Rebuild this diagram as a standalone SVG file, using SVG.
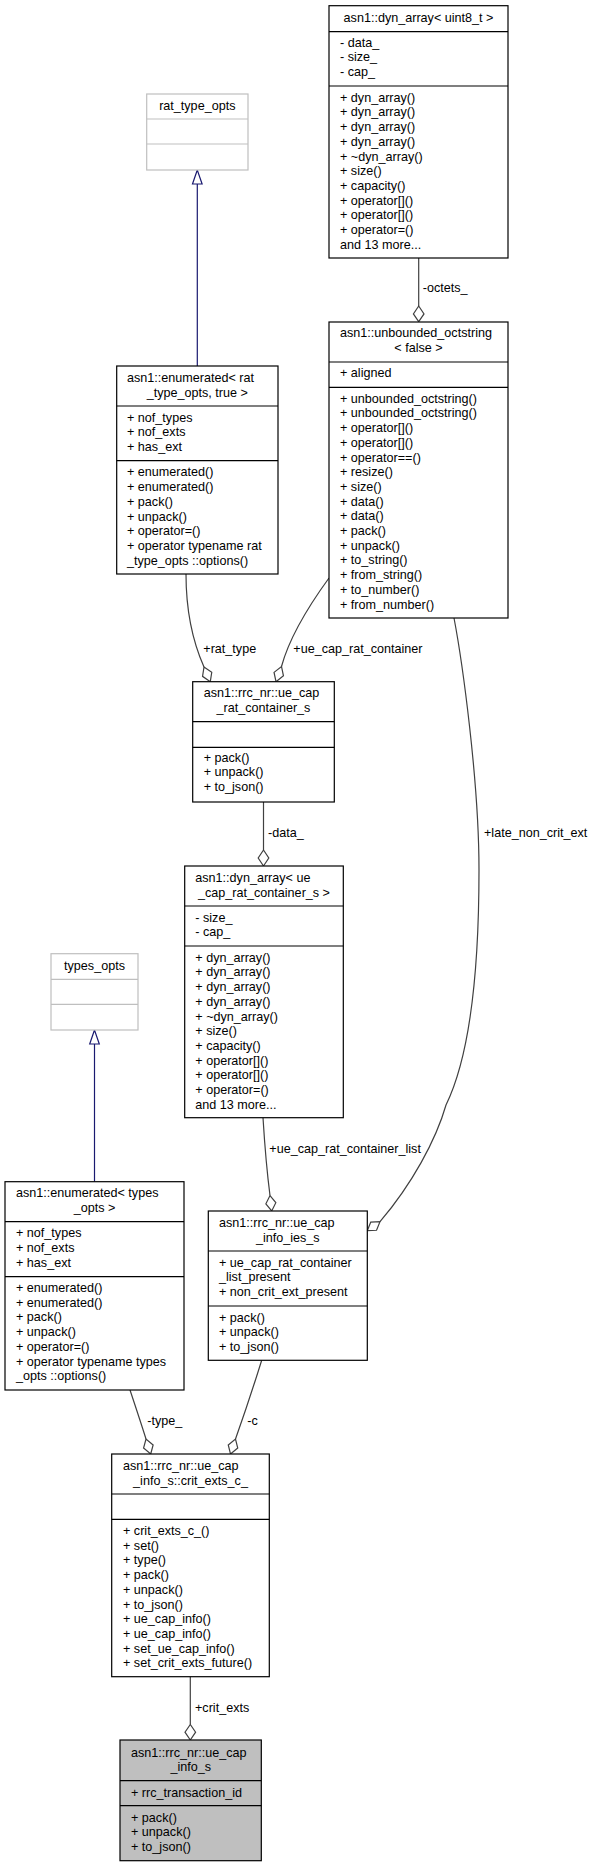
<svg xmlns="http://www.w3.org/2000/svg" width="596" height="1867" viewBox="0 0 596 1867">
<style>
text{font-family:"Liberation Sans",Arial,sans-serif;font-size:12.6px;fill:#000}
.c{text-anchor:middle}
.box{fill:#fff;stroke:#000;stroke-width:1.2}
.ext{fill:#fff;stroke:#bfbfbf;stroke-width:1.2}
.main{fill:#bfbfbf;stroke:#000;stroke-width:1.2}
.sep{stroke:#000;stroke-width:1.2}
.sepx{stroke:#bfbfbf;stroke-width:1.2}
.edge{fill:none;stroke:#404040;stroke-width:1.2}
.inh{fill:none;stroke:#191970;stroke-width:1.2}
.dia{fill:#fff;stroke:#404040;stroke-width:1.2}
.tri{fill:#fff;stroke:#191970;stroke-width:1.2}
</style>
<rect width="596" height="1867" fill="#fff"/>
<g id="connectors">
<path class="edge" d="M418.7,258 L418.7,306"/>
<polygon class="dia" points="418.7,321.7 413.4,313.9 418.7,306 424,313.9"/>
<text x="422.7" y="292">-octets_</text>
<path class="inh" d="M197.3,184 L197.3,366"/>
<polygon class="tri" points="197.3,170 192.5,184 202.1,184"/>
<path class="edge" d="M186,574 C186,610 192,640 204,667"/>
<polygon class="dia" points="210.3,681.7 211.75,672.35 204,667 202.55,676.35"/>
<text x="203.3" y="652.5">+rat_type</text>
<path class="edge" d="M329,578 C313,600 290,635 281.5,666.5"/>
<polygon class="dia" points="276,681.7 283.45,675.8 281.5,666.5 274.05,672.4"/>
<text x="293.3" y="652.5">+ue_cap_rat_container</text>
<path class="edge" d="M263.5,802 L263.5,850"/>
<polygon class="dia" points="263.5,866 258.2,858 263.5,850 268.8,858"/>
<text x="268" y="836.7">-data_</text>
<path class="edge" d="M454,618 C462,660 479,780 479,870 C479,980 468,1060 446,1105 C436,1140 412,1184 380,1221.7"/>
<polygon class="dia" points="367.3,1230.7 376.55,1230.28 380,1221.7 370.75,1222.12"/>
<text x="484" y="836.7">+late_non_crit_ext</text>
<path class="edge" d="M263,1117.7 C265,1150 268,1180 270,1195.5"/>
<polygon class="dia" points="271.7,1211 275.82,1202.7 270,1195.5 265.88,1203.8"/>
<text x="269.3" y="1152.5">+ue_cap_rat_container_list</text>
<path class="inh" d="M94.5,1044 L94.5,1181.7"/>
<polygon class="tri" points="94.5,1030 89.7,1044 99.3,1044"/>
<path class="edge" d="M130,1390 C135,1405 141,1423 146,1439"/>
<polygon class="dia" points="150.7,1454 153.13,1445 146,1439 143.57,1448"/>
<text x="147.3" y="1425">-type_</text>
<path class="edge" d="M261.7,1360.3 C254,1385 243,1418 235.5,1439"/>
<polygon class="dia" points="230.5,1454 237.74,1448.08 235.5,1439 228.26,1444.92"/>
<text x="247.3" y="1425">-c</text>
<path class="edge" d="M190.3,1676.7 L190.3,1724.5"/>
<polygon class="dia" points="190.3,1740 185,1732.2 190.3,1724.5 195.6,1732.2"/>
<text x="195" y="1711.7">+crit_exts</text>
</g>
<g id="dyn_array_uint8">
<rect class="box" x="329" y="5.7" width="179" height="252.3"/>
<line class="sep" x1="329" y1="31.7" x2="508" y2="31.7"/>
<line class="sep" x1="329" y1="86" x2="508" y2="86"/>
<text class="c" x="418.5" y="21.7">asn1::dyn_array&lt; uint8_t &gt;</text>
<text x="340" y="46.7">- data_</text>
<text x="340" y="61.4">- size_</text>
<text x="340" y="76.1">- cap_</text>
<text x="340" y="101.7">+ dyn_array()</text>
<text x="340" y="116.4">+ dyn_array()</text>
<text x="340" y="131.1">+ dyn_array()</text>
<text x="340" y="145.8">+ dyn_array()</text>
<text x="340" y="160.5">+ ~dyn_array()</text>
<text x="340" y="175.2">+ size()</text>
<text x="340" y="189.9">+ capacity()</text>
<text x="340" y="204.6">+ operator[]()</text>
<text x="340" y="219.3">+ operator[]()</text>
<text x="340" y="234">+ operator=()</text>
<text x="340" y="248.7">and 13 more...</text>
</g>
<g id="rat_type_opts">
<rect class="ext" x="146.7" y="94" width="101.3" height="76"/>
<line class="sepx" x1="146.7" y1="119" x2="248" y2="119"/>
<line class="sepx" x1="146.7" y1="144" x2="248" y2="144"/>
<text class="c" x="197.3" y="110">rat_type_opts</text>
</g>
<g id="unbounded_octstring">
<rect class="box" x="329" y="322" width="179" height="296"/>
<line class="sep" x1="329" y1="362" x2="508" y2="362"/>
<line class="sep" x1="329" y1="387.3" x2="508" y2="387.3"/>
<text x="340" y="337.3">asn1::unbounded_octstring</text>
<text class="c" x="418.5" y="352.3">&lt; false &gt;</text>
<text x="340" y="377">+ aligned</text>
<text x="340" y="402.7">+ unbounded_octstring()</text>
<text x="340" y="417.4">+ unbounded_octstring()</text>
<text x="340" y="432.1">+ operator[]()</text>
<text x="340" y="446.8">+ operator[]()</text>
<text x="340" y="461.5">+ operator==()</text>
<text x="340" y="476.2">+ resize()</text>
<text x="340" y="490.9">+ size()</text>
<text x="340" y="505.6">+ data()</text>
<text x="340" y="520.3">+ data()</text>
<text x="340" y="535">+ pack()</text>
<text x="340" y="549.7">+ unpack()</text>
<text x="340" y="564.4">+ to_string()</text>
<text x="340" y="579.1">+ from_string()</text>
<text x="340" y="593.8">+ to_number()</text>
<text x="340" y="608.5">+ from_number()</text>
</g>
<g id="enumerated_rat_type_opts">
<rect class="box" x="116.7" y="366" width="161.3" height="208"/>
<line class="sep" x1="116.7" y1="406" x2="278" y2="406"/>
<line class="sep" x1="116.7" y1="460.7" x2="278" y2="460.7"/>
<text x="127" y="381.7">asn1::enumerated&lt; rat</text>
<text class="c" x="197.3" y="396.7">_type_opts, true &gt;</text>
<text x="127" y="421.7">+ nof_types</text>
<text x="127" y="436.4">+ nof_exts</text>
<text x="127" y="451.1">+ has_ext</text>
<text x="127" y="476.4">+ enumerated()</text>
<text x="127" y="491.1">+ enumerated()</text>
<text x="127" y="505.8">+ pack()</text>
<text x="127" y="520.5">+ unpack()</text>
<text x="127" y="535.2">+ operator=()</text>
<text x="127" y="549.9">+ operator typename rat</text>
<text x="127" y="564.6">_type_opts ::options()</text>
</g>
<g id="ue_cap_rat_container_s">
<rect class="box" x="192.7" y="681.7" width="141.6" height="120.3"/>
<line class="sep" x1="192.7" y1="721.7" x2="334.3" y2="721.7"/>
<line class="sep" x1="192.7" y1="747.3" x2="334.3" y2="747.3"/>
<text x="203.7" y="697.3">asn1::rrc_nr::ue_cap</text>
<text class="c" x="263.5" y="712.3">_rat_container_s</text>
<text x="203.7" y="761.7">+ pack()</text>
<text x="203.7" y="776.4">+ unpack()</text>
<text x="203.7" y="791.1">+ to_json()</text>
</g>
<g id="dyn_array_ue_cap_rat_container_s">
<rect class="box" x="184.7" y="866" width="158.6" height="251.7"/>
<line class="sep" x1="184.7" y1="906" x2="343.3" y2="906"/>
<line class="sep" x1="184.7" y1="946" x2="343.3" y2="946"/>
<text x="195.3" y="881.7">asn1::dyn_array&lt; ue</text>
<text class="c" x="264" y="896.7">_cap_rat_container_s &gt;</text>
<text x="195.3" y="921.7">- size_</text>
<text x="195.3" y="936.4">- cap_</text>
<text x="195.3" y="961.7">+ dyn_array()</text>
<text x="195.3" y="976.4">+ dyn_array()</text>
<text x="195.3" y="991.1">+ dyn_array()</text>
<text x="195.3" y="1005.8">+ dyn_array()</text>
<text x="195.3" y="1020.5">+ ~dyn_array()</text>
<text x="195.3" y="1035.2">+ size()</text>
<text x="195.3" y="1049.9">+ capacity()</text>
<text x="195.3" y="1064.6">+ operator[]()</text>
<text x="195.3" y="1079.3">+ operator[]()</text>
<text x="195.3" y="1094">+ operator=()</text>
<text x="195.3" y="1108.7">and 13 more...</text>
</g>
<g id="types_opts">
<rect class="ext" x="51" y="953.7" width="87" height="76.3"/>
<line class="sepx" x1="51" y1="979.3" x2="138" y2="979.3"/>
<line class="sepx" x1="51" y1="1004.3" x2="138" y2="1004.3"/>
<text class="c" x="94.5" y="969.5">types_opts</text>
</g>
<g id="enumerated_types_opts">
<rect class="box" x="5" y="1181.7" width="179" height="208.3"/>
<line class="sep" x1="5" y1="1221.7" x2="184" y2="1221.7"/>
<line class="sep" x1="5" y1="1276.7" x2="184" y2="1276.7"/>
<text x="16" y="1197.3">asn1::enumerated&lt; types</text>
<text class="c" x="94.5" y="1212.3">_opts &gt;</text>
<text x="16" y="1237.3">+ nof_types</text>
<text x="16" y="1252">+ nof_exts</text>
<text x="16" y="1266.7">+ has_ext</text>
<text x="16" y="1292">+ enumerated()</text>
<text x="16" y="1306.7">+ enumerated()</text>
<text x="16" y="1321.4">+ pack()</text>
<text x="16" y="1336.1">+ unpack()</text>
<text x="16" y="1350.8">+ operator=()</text>
<text x="16" y="1365.5">+ operator typename types</text>
<text x="16" y="1380.2">_opts ::options()</text>
</g>
<g id="ue_cap_info_ies_s">
<rect class="box" x="208.3" y="1211" width="159" height="149.3"/>
<line class="sep" x1="208.3" y1="1251" x2="367.3" y2="1251"/>
<line class="sep" x1="208.3" y1="1306" x2="367.3" y2="1306"/>
<text x="219" y="1226.7">asn1::rrc_nr::ue_cap</text>
<text class="c" x="287.8" y="1241.7">_info_ies_s</text>
<text x="219" y="1266.7">+ ue_cap_rat_container</text>
<text x="219" y="1281.4">_list_present</text>
<text x="219" y="1296.1">+ non_crit_ext_present</text>
<text x="219" y="1321.7">+ pack()</text>
<text x="219" y="1336.4">+ unpack()</text>
<text x="219" y="1351.1">+ to_json()</text>
</g>
<g id="crit_exts_c_">
<rect class="box" x="111.7" y="1454" width="157.6" height="222.7"/>
<line class="sep" x1="111.7" y1="1494" x2="269.3" y2="1494"/>
<line class="sep" x1="111.7" y1="1519.3" x2="269.3" y2="1519.3"/>
<text x="123" y="1470">asn1::rrc_nr::ue_cap</text>
<text class="c" x="190.5" y="1485">_info_s::crit_exts_c_</text>
<text x="123" y="1535">+ crit_exts_c_()</text>
<text x="123" y="1549.7">+ set()</text>
<text x="123" y="1564.4">+ type()</text>
<text x="123" y="1579.1">+ pack()</text>
<text x="123" y="1593.8">+ unpack()</text>
<text x="123" y="1608.5">+ to_json()</text>
<text x="123" y="1623.2">+ ue_cap_info()</text>
<text x="123" y="1637.9">+ ue_cap_info()</text>
<text x="123" y="1652.6">+ set_ue_cap_info()</text>
<text x="123" y="1667.3">+ set_crit_exts_future()</text>
</g>
<g id="ue_cap_info_s">
<rect class="main" x="120" y="1740" width="141.3" height="120.7"/>
<line class="sep" x1="120" y1="1780.7" x2="261.3" y2="1780.7"/>
<line class="sep" x1="120" y1="1805.7" x2="261.3" y2="1805.7"/>
<text x="131" y="1756.7">asn1::rrc_nr::ue_cap</text>
<text class="c" x="190.7" y="1771">_info_s</text>
<text x="131" y="1796.7">+ rrc_transaction_id</text>
<text x="131" y="1821.7">+ pack()</text>
<text x="131" y="1836.4">+ unpack()</text>
<text x="131" y="1851.1">+ to_json()</text>
</g>
</svg>
